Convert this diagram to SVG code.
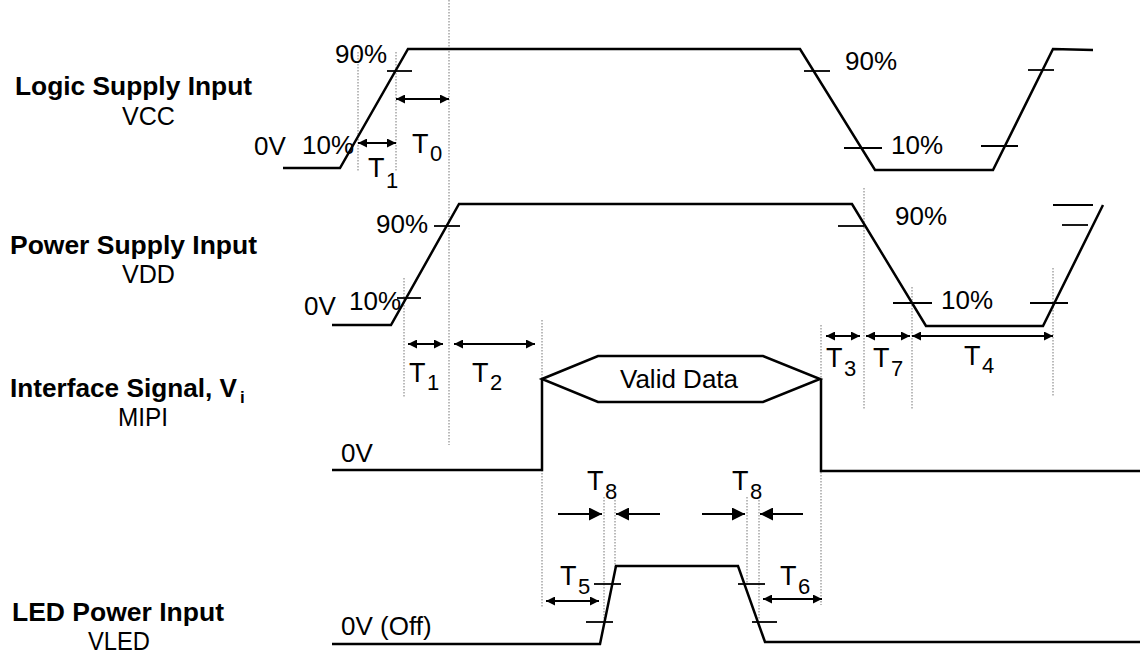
<svg xmlns="http://www.w3.org/2000/svg" width="1140" height="655" viewBox="0 0 1140 655">
<style>
text{font-family:"Liberation Sans",Arial,sans-serif;fill:#000}
.lbl{font-size:25px;font-weight:bold}
.sub{font-size:25px}
.p{font-size:26px}
.t{font-size:27px}
.s{font-size:22px}
.w{fill:none;stroke:#000;stroke-width:2.5;stroke-linejoin:miter}
.tick{stroke:#000;stroke-width:1.8}
.dot{stroke:#777;stroke-width:1;stroke-dasharray:1.5,1.5}
.arr{stroke:#000;stroke-width:2.2;marker-start:url(#ah);marker-end:url(#ah)}
.arr1{stroke:#000;stroke-width:2.2;marker-end:url(#ahb)}
</style>
<defs>
<marker id="ah" viewBox="0 0 10 10" refX="10" refY="5" markerWidth="11" markerHeight="9" orient="auto-start-reverse" markerUnits="userSpaceOnUse"><path d="M0,0 L10,5 L0,10 Z" fill="#000"/></marker>
<marker id="ahb" viewBox="0 0 10 10" refX="10" refY="5" markerWidth="15" markerHeight="13" orient="auto" markerUnits="userSpaceOnUse"><path d="M0,0 L10,5 L0,10 Z" fill="#000"/></marker>
</defs>
<rect width="1140" height="655" fill="#fff"/>

<g id="labels">
<text class="lbl" x="15" y="95" textLength="237" lengthAdjust="spacingAndGlyphs">Logic Supply Input</text>
<text class="sub" x="122" y="125" textLength="53" lengthAdjust="spacingAndGlyphs">VCC</text>
<text class="lbl" x="10" y="254" textLength="247" lengthAdjust="spacingAndGlyphs">Power Supply Input</text>
<text class="sub" x="122" y="283" textLength="53" lengthAdjust="spacingAndGlyphs">VDD</text>
<text class="lbl" x="10" y="397"><tspan textLength="227" lengthAdjust="spacingAndGlyphs">Interface Signal,  V</tspan><tspan x="240" y="403" font-size="17">i</tspan></text>
<text class="sub" x="118" y="426" textLength="50" lengthAdjust="spacingAndGlyphs">MIPI</text>
<text class="lbl" x="12" y="621" textLength="212" lengthAdjust="spacingAndGlyphs">LED Power Input</text>
<text class="sub" x="88" y="650" textLength="62" lengthAdjust="spacingAndGlyphs">VLED</text>
</g>

<g id="guides">
<line class="dot" x1="358" y1="52" x2="358" y2="172"/>
<line class="dot" x1="396" y1="52" x2="396" y2="172"/>
<line class="dot" x1="449" y1="0" x2="449" y2="445"/>
<line class="dot" x1="404" y1="278" x2="404" y2="398"/>
<line class="dot" x1="542" y1="320" x2="542" y2="607"/>
<line class="dot" x1="821" y1="325" x2="821" y2="605"/>
<line class="dot" x1="864" y1="188" x2="864" y2="410"/>
<line class="dot" x1="912" y1="287" x2="912" y2="410"/>
<line class="dot" x1="1053" y1="268" x2="1053" y2="397"/>
<line class="dot" x1="604" y1="497" x2="604" y2="620"/>
<line class="dot" x1="615" y1="497" x2="615" y2="570"/>
<line class="dot" x1="747" y1="497" x2="747" y2="585"/>
<line class="dot" x1="759" y1="497" x2="759" y2="620"/>
</g>

<g id="vcc">
<polyline class="w" points="283,168 340,168 408,49 800,49 875,170 993,170 1053,49 1093,50"/>
<line class="tick" x1="387" y1="71" x2="412" y2="71"/>
<line class="tick" x1="804" y1="71" x2="830" y2="71"/>
<line class="tick" x1="844" y1="148" x2="882" y2="148"/>
<line class="tick" x1="981" y1="146" x2="1018" y2="146"/>
<line class="tick" x1="1028" y1="70" x2="1054" y2="70"/>
<text class="p" x="335" y="63">90%</text>
<text class="p" x="254" y="155">0V</text>
<text class="p" x="302" y="154">10%</text>
<text class="p" x="845" y="70">90%</text>
<text class="p" x="891" y="154">10%</text>
</g>

<g id="vdd">
<polyline class="w" points="332,325 391,325 459,204 852,204 926,326 1043,326 1103,205"/>
<line class="tick" x1="434" y1="226" x2="460" y2="226"/>
<line class="tick" x1="397" y1="298" x2="421" y2="298"/>
<line class="tick" x1="838" y1="226" x2="864" y2="226"/>
<line class="tick" x1="893" y1="303" x2="932" y2="303"/>
<line class="tick" x1="1030" y1="303" x2="1068" y2="303"/>
<line class="tick" x1="1053" y1="205" x2="1093" y2="205"/>
<line class="tick" x1="1062" y1="225" x2="1088" y2="225"/>
<text class="p" x="376" y="233">90%</text>
<text class="p" x="304" y="315">0V</text>
<text class="p" x="349" y="310">10%</text>
<text class="p" x="895" y="225">90%</text>
<text class="p" x="941" y="309">10%</text>
</g>

<g id="mipi">
<polyline class="w" points="332,470 542,470 542,379"/>
<polygon class="w" points="542,379 598,356 763,356 820,379 763,402 598,402"/>
<polyline class="w" points="821,379 821,471 1140,471"/>
<text class="p" x="341" y="462">0V</text>
<text class="p" x="620" y="388">Valid Data</text>
</g>

<g id="vled">
<polyline class="w" points="332,644 600,644 616,566 738,566 765,642 1140,642"/>
<line class="tick" x1="594" y1="584" x2="621" y2="584"/>
<line class="tick" x1="586" y1="622" x2="613" y2="622"/>
<line class="tick" x1="738" y1="584" x2="765" y2="584"/>
<line class="tick" x1="752" y1="622" x2="777" y2="622"/>
<text class="p" x="341" y="635">0V (Off)</text>
</g>

<g id="connectors">
<line class="arr" x1="396" y1="99" x2="449" y2="99"/>
<line class="arr" x1="358" y1="143" x2="396" y2="143"/>
<line class="arr" x1="408" y1="344" x2="443" y2="344"/>
<line class="arr" x1="454" y1="344" x2="535" y2="344"/>
<line class="arr" x1="826" y1="336" x2="860" y2="336"/>
<line class="arr" x1="866" y1="336" x2="910" y2="336"/>
<line class="arr" x1="912" y1="336" x2="1053" y2="336"/>
<line class="arr" x1="546" y1="601" x2="599" y2="601"/>
<line class="arr" x1="763" y1="599" x2="822" y2="599"/>
<line class="arr1" x1="558" y1="514" x2="602" y2="514"/>
<line class="arr1" x1="660" y1="514" x2="616" y2="514"/>
<line class="arr1" x1="702" y1="514" x2="745" y2="514"/>
<line class="arr1" x1="803" y1="514" x2="760" y2="514"/>
</g>

<g id="timing-labels">
<text class="t" x="412" y="153">T</text><text class="s" x="430" y="161">0</text>
<text class="t" x="368" y="177">T</text><text class="s" x="386" y="188">1</text>
<text class="t" x="409" y="382">T</text><text class="s" x="427" y="390">1</text>
<text class="t" x="472" y="382">T</text><text class="s" x="490" y="390">2</text>
<text class="t" x="826" y="367">T</text><text class="s" x="844" y="376">3</text>
<text class="t" x="873" y="367">T</text><text class="s" x="891" y="376">7</text>
<text class="t" x="964" y="365">T</text><text class="s" x="982" y="373">4</text>
<text class="t" x="587" y="490">T</text><text class="s" x="605" y="499">8</text>
<text class="t" x="732" y="490">T</text><text class="s" x="750" y="499">8</text>
<text class="t" x="560" y="585">T</text><text class="s" x="578" y="594">5</text>
<text class="t" x="780" y="585">T</text><text class="s" x="798" y="594">6</text>
</g>
</svg>
